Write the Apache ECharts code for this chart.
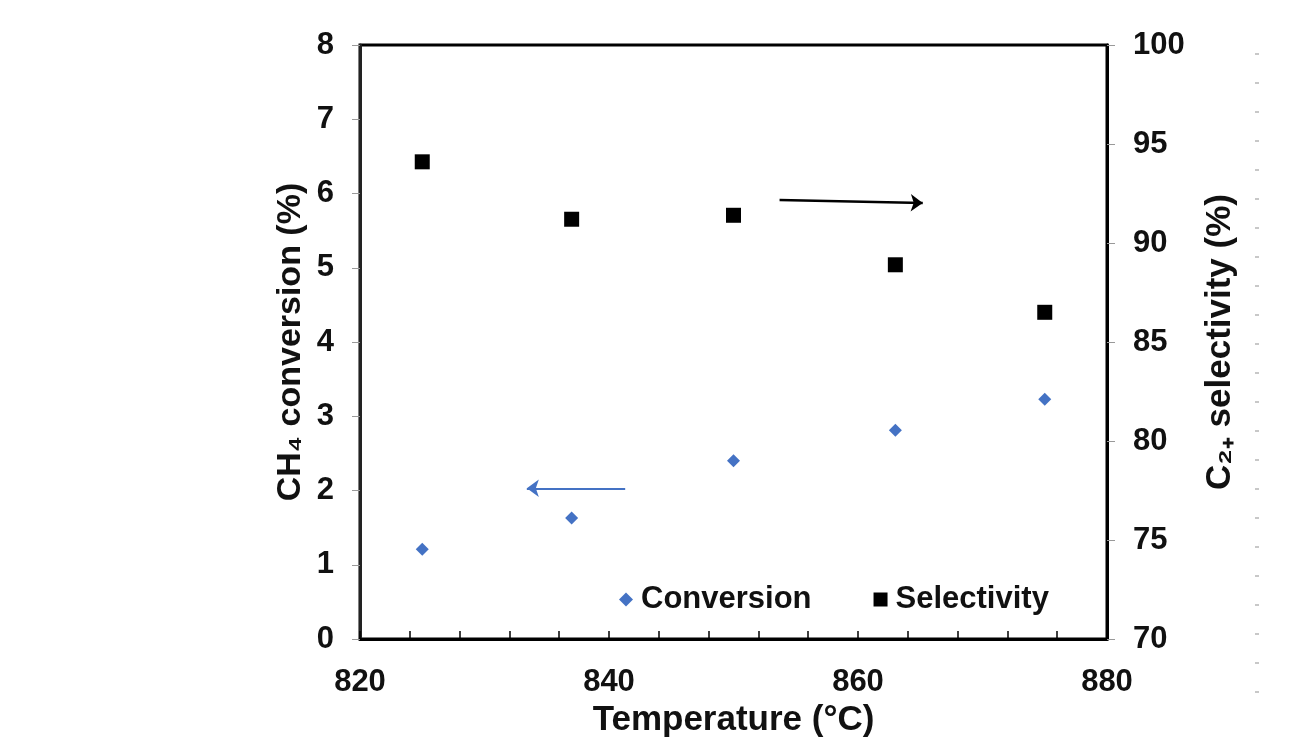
<!DOCTYPE html>
<html>
<head>
<meta charset="utf-8">
<script src="https://cdn.jsdelivr.net/npm/echarts@6/dist/echarts.min.js"></script>
<style>
  html, body { margin: 0; padding: 0; background: #fff; }
  #chart { width: 1292px; height: 748px; }
</style>
</head>
<body>
<div id="chart"></div>
<script>
const temperatures = [825, 837, 850, 863, 875];
const conversion = [1.21, 1.63, 2.40, 2.81, 3.23];
const selectivity = [94.1, 91.2, 91.4, 88.9, 86.5];
const conversionArrow = [[841.3, 2.03], [833.4, 2.03]];
const selectivityArrow = [[853.7, 92.17], [865.2, 92.02]];

const FONT = "Liberation Sans, Arial, sans-serif";
const BLUE = "#4472c4";

const chart = echarts.init(document.getElementById("chart"));

const labelStyle = { color: "#111", fontSize: 31, fontWeight: "bold", fontFamily: FONT };
const nameStyle = { color: "#111", fontSize: 34, fontWeight: "bold", fontFamily: FONT };

chart.setOption({
  backgroundColor: "#fff",
  animation: false,
  grid: { left: 360, right: 185, top: 45, bottom: 109, show: true, borderColor: "#000", borderWidth: 3 },
  legend: {
    left: 614,
    top: 579,
    itemWidth: 14,
    itemHeight: 14,
    itemGap: 62,
    textStyle: { color: "#111", fontSize: 31, fontWeight: "bold", fontFamily: FONT, padding: [0, 0, 0, 3] },
    data: [
      { name: "Conversion", icon: "diamond", itemStyle: { color: BLUE } },
      { name: "Selectivity", icon: "rect", itemStyle: { color: "#000" } }
    ]
  },
  xAxis: {
    type: "value",
    min: 820,
    max: 880,
    interval: 20,
    name: "Temperature (°C)",
    nameLocation: "middle",
    nameGap: 64,
    nameMoveOverlap: false,
    nameTextStyle: Object.assign({}, nameStyle, { fontSize: 35 }),
    axisLine: { show: true, lineStyle: { color: "#000", width: 3 } },
    axisTick: { show: true, inside: true, length: 8, lineStyle: { color: "#000", width: 1.5 } },
    minorTick: { show: true, splitNumber: 5, length: 8, lineStyle: { color: "#000", width: 1.5 } },
    axisLabel: Object.assign({ margin: 28 }, labelStyle),
    splitLine: { show: false }
  },
  yAxis: [
    {
      type: "value",
      min: 0,
      max: 8,
      interval: 1,
      name: "CH\u2084 conversion (%)",
      nameLocation: "middle",
      nameGap: 52,
      nameMoveOverlap: false,
      nameTextStyle: nameStyle,
      axisLine: { show: true, lineStyle: { color: "#222", width: 3 } },
      axisTick: { show: true, length: 8, lineStyle: { color: "#999", width: 1 } },
      axisLabel: Object.assign({ margin: 26 }, labelStyle),
      splitLine: { show: false }
    },
    {
      type: "value",
      min: 70,
      max: 100,
      interval: 5,
      name: "C\u2082\u208A selectivity (%)",
      nameLocation: "middle",
      nameGap: 96,
      nameRotate: 90,
      nameMoveOverlap: false,
      nameTextStyle: Object.assign({}, nameStyle, { fontSize: 35 }),
      axisLine: { show: true, lineStyle: { color: "#000", width: 3 } },
      axisTick: { show: true, length: 8, lineStyle: { color: "#999", width: 1 } },
      axisLabel: Object.assign({ margin: 26 }, labelStyle),
      splitLine: { show: false }
    }
  ],
  series: [
    {
      name: "Conversion",
      type: "scatter",
      yAxisIndex: 0,
      symbol: "diamond",
      symbolSize: 13,
      itemStyle: { color: BLUE, opacity: 1 },
      data: temperatures.map((t, i) => [t, conversion[i]]),
      markLine: {
        silent: true,
        symbol: ["none", "arrow"],
        symbolSize: [13, 12],
        label: { show: false },
        lineStyle: { color: BLUE, width: 2, type: "solid" },
        data: [[{ coord: conversionArrow[0] }, { coord: conversionArrow[1] }]]
      }
    },
    {
      name: "Selectivity",
      type: "scatter",
      yAxisIndex: 1,
      symbol: "rect",
      symbolSize: 15,
      itemStyle: { color: "#000", opacity: 1 },
      data: temperatures.map((t, i) => [t, selectivity[i]]),
      markLine: {
        silent: true,
        symbol: ["none", "arrow"],
        symbolSize: [13, 12],
        label: { show: false },
        lineStyle: { color: "#000", width: 2.5, type: "solid" },
        data: [[{ coord: selectivityArrow[0] }, { coord: selectivityArrow[1] }]]
      }
    }
  ],
  graphic: [
    {
      type: "line",
      shape: { x1: 1257, y1: 53, x2: 1257, y2: 720 },
      style: { stroke: "#c8c8c8", lineWidth: 4, lineDash: [2, 27] },
      silent: true
    }
  ]
});
</script>
</body>
</html>
